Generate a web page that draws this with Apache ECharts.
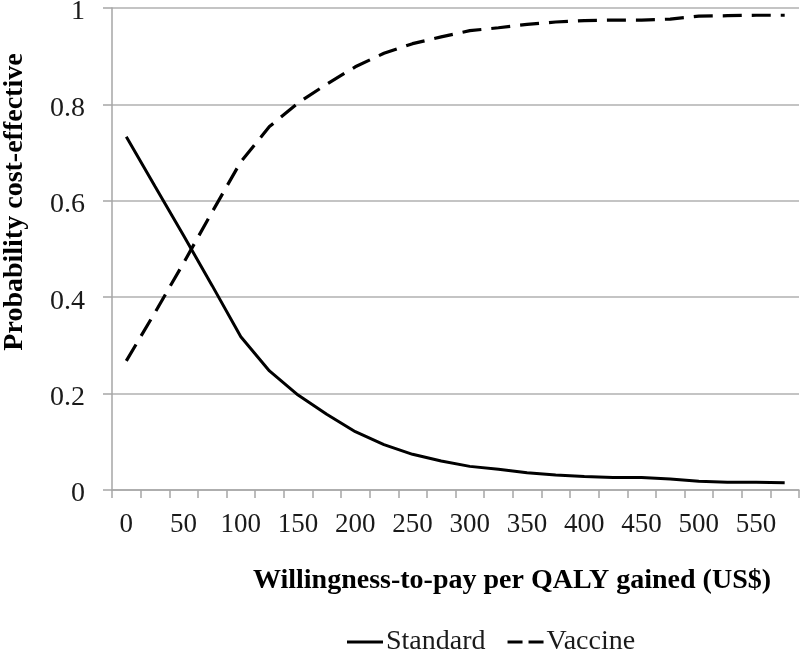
<!DOCTYPE html>
<html>
<head>
<meta charset="utf-8">
<script src="https://cdn.jsdelivr.net/npm/echarts@6/dist/echarts.min.js"></script>
<style>
html,body{margin:0;padding:0;background:#fff;}
#main{width:800px;height:653px;}
</style>
</head>
<body>
<div id="main"></div>
<script>
// Willingness-to-pay thresholds (US$ per QALY gained)
var categories = ['0','25','50','75','100','125','150','175','200','225','250','275','300','325','350','375','400','425','450','475','500','525','550','575'];
// Probability cost-effective
var standard = [0.733,0.630,0.528,0.424,0.318,0.247,0.197,0.157,0.121,0.094,0.074,0.060,0.049,0.043,0.036,0.031,0.028,0.026,0.026,0.023,0.018,0.016,0.016,0.015];
var vaccine  = [0.268,0.368,0.471,0.577,0.681,0.754,0.803,0.842,0.878,0.906,0.926,0.940,0.953,0.959,0.966,0.971,0.974,0.975,0.975,0.977,0.983,0.984,0.985,0.985];
var seriesNames = ['Standard','Vaccine'];
var xTitle = 'Willingness-to-pay per QALY gained (US$)';
var yTitle = 'Probability cost-effective';

var FONT = '"Liberation Serif", "Times New Roman", serif';
var chart = echarts.init(document.getElementById('main'), null, {renderer:'canvas'});
chart.setOption({
  animation:false,
  backgroundColor:'#ffffff',
  grid:{left:112, right:1, top:8, bottom:163, containLabel:false, outerBoundsMode:'none'},
  xAxis:{
    type:'category',
    data:categories,
    boundaryGap:true,
    axisLine:{show:true, lineStyle:{color:'#a6a6a6', width:1.5}},
    axisTick:{show:true, interval:0, length:8, lineStyle:{color:'#a6a6a6', width:1.5}},
    axisLabel:{interval:1, margin:21, fontFamily:FONT, fontSize:27, color:'#1a1a1a'},
    splitLine:{show:false}
  },
  yAxis:{
    type:'value',
    min:0, max:1, interval:0.2,
    axisLine:{show:true, lineStyle:{color:'#a6a6a6', width:1.5}},
    axisTick:{show:true, length:9, lineStyle:{color:'#a6a6a6', width:1.5}},
    axisLabel:{margin:27, fontFamily:FONT, fontSize:28, color:'#1a1a1a', verticalAlign:'top', lineHeight:8},
    splitLine:{show:true, lineStyle:{color:'#b0b0b0', width:1.5}}
  },
  legend:{
    left:342, top:623,
    itemWidth:36, itemHeight:14, itemGap:22,
    textStyle:{fontFamily:FONT, fontSize:28, color:'#1a1a1a', padding:[0,0,0,-2]},
    data:[
      {name:seriesNames[0], icon:'path://M0,0 L36,0 L36,3 L0,3 Z', itemStyle:{color:'#000'}},
      {name:seriesNames[1], icon:'path://M0,0 L15,0 L15,3 L0,3 Z M21,0 L36,0 L36,3 L21,3 Z', itemStyle:{color:'#000'}}
    ]
  },
  graphic:[
    {type:'text', x:512, y:581, style:{text:xTitle, fontFamily:FONT, fontSize:28, fontWeight:'bold', fill:'#000', align:'center', verticalAlign:'middle'}},
    {type:'text', x:15, y:202, rotation:Math.PI/2, style:{text:yTitle, fontFamily:FONT, fontSize:28, fontWeight:'bold', fill:'#000', align:'center', verticalAlign:'middle'}}
  ],
  series:[
    {name:seriesNames[0], type:'line', data:standard, symbol:'none', smooth:false,
     itemStyle:{color:'#000'}, lineStyle:{color:'#000', width:3, type:'solid'}},
    {name:seriesNames[1], type:'line', data:vaccine, symbol:'none', smooth:false,
     itemStyle:{color:'#000'}, lineStyle:{color:'#000', width:3.2, type:[19,10], cap:'butt'}}
  ]
});
</script>
</body>
</html>
